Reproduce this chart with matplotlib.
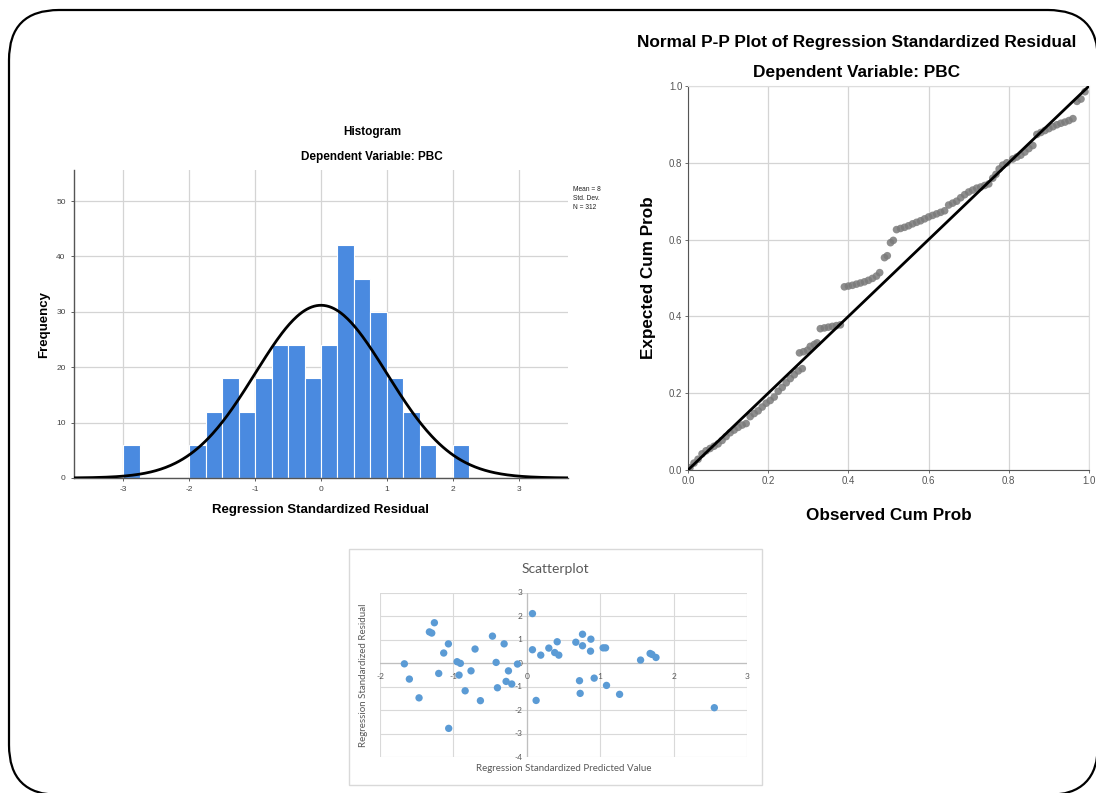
import numpy as np
import matplotlib
matplotlib.use("Agg")
import matplotlib.pyplot as plt
from matplotlib.patches import FancyBboxPatch

plt.rcParams['font.family'] = ['Liberation Sans', 'DejaVu Sans']
plt.rcParams['axes.unicode_minus'] = False

# ---------------- data ----------------
# Histogram (bin width 0.25)
hist_bin_starts = [-3.0, -2.0, -1.75, -1.5, -1.25, -1.0, -0.75, -0.5, -0.25,
                   0.0, 0.25, 0.5, 0.75, 1.0, 1.25, 1.5, 2.0]
hist_counts = [6, 6, 12, 18, 12, 18, 24, 24, 18, 24, 42, 36, 30, 18, 12, 6, 6]
hist_bin_width = 0.25
resid_mean = 0.0
resid_sd = 0.998
resid_n = 312
hist_xticks = [-3, -2, -1, 0, 1, 2, 3]
hist_yticks = [0, 10, 20, 30, 40, 50]

# Normal P-P plot points (observed, expected)
pp_observed = [0.005, 0.015, 0.025, 0.035, 0.045, 0.055, 0.065, 0.075, 0.085, 0.095,
               0.105, 0.115, 0.125, 0.135, 0.145, 0.155, 0.165, 0.175, 0.185, 0.195,
               0.205, 0.215, 0.225, 0.235, 0.245, 0.255, 0.265, 0.275, 0.285,
               0.278, 0.288, 0.298, 0.305, 0.315, 0.322,
               0.33, 0.34, 0.35, 0.36, 0.37, 0.38,
               0.39, 0.40, 0.41, 0.42, 0.43, 0.44, 0.45, 0.46, 0.47, 0.478,
               0.49, 0.497, 0.505, 0.512,
               0.52, 0.53, 0.54, 0.55, 0.56, 0.57, 0.58, 0.59, 0.60, 0.61, 0.62, 0.63,
               0.64, 0.65, 0.66, 0.67, 0.68, 0.69, 0.70, 0.71, 0.72, 0.73, 0.74, 0.75,
               0.76, 0.768, 0.776, 0.785, 0.795,
               0.81, 0.82, 0.83, 0.84, 0.85, 0.86, 0.87, 0.88, 0.89, 0.90, 0.91, 0.92,
               0.93, 0.94, 0.95, 0.96, 0.97, 0.98, 0.99]
pp_expected = [0.006, 0.018, 0.028, 0.042, 0.05, 0.056, 0.062, 0.068, 0.077, 0.087,
               0.097, 0.104, 0.111, 0.117, 0.121, 0.139, 0.147, 0.154, 0.164, 0.174,
               0.181, 0.19, 0.205, 0.215, 0.227, 0.238, 0.248, 0.258, 0.264,
               0.305, 0.308, 0.312, 0.322, 0.327, 0.331,
               0.368, 0.37, 0.372, 0.374, 0.376, 0.378,
               0.477, 0.479, 0.481, 0.484, 0.487, 0.49, 0.494, 0.499, 0.505, 0.514,
               0.553, 0.558, 0.592, 0.598,
               0.626, 0.629, 0.632, 0.636, 0.641, 0.645, 0.649, 0.654, 0.659, 0.663, 0.667, 0.671,
               0.675, 0.69, 0.695, 0.70, 0.709, 0.717, 0.724, 0.729, 0.734, 0.737, 0.741, 0.745,
               0.76, 0.77, 0.784, 0.794, 0.8,
               0.81, 0.815, 0.82, 0.828, 0.837, 0.845, 0.874, 0.879, 0.884, 0.889, 0.894, 0.899,
               0.903, 0.906, 0.91, 0.915, 0.96, 0.966, 0.985]
pp_ticks = [0.0, 0.2, 0.4, 0.6, 0.8, 1.0]

# Scatterplot
scatter_pred = [-1.668, -1.60, -1.468, -1.327, -1.295, -1.259, -1.20, -1.132, -1.068, -1.064,
                -0.95, -0.905, -0.923, -0.84, -0.76, -0.705, -0.632, -0.468, -0.418, -0.40,
                -0.309, -0.282, -0.25, -0.205, -0.127, 0.077, 0.077, 0.127, 0.19, 0.30,
                0.38, 0.414, 0.436, 0.668, 0.718, 0.727, 0.759, 0.759, 0.868, 0.873,
                0.918, 1.04, 1.073, 1.086, 1.264, 1.55, 1.68, 1.705, 1.76, 2.555]
scatter_resid = [-0.03, -0.68, -1.48, 1.33, 1.28, 1.72, -0.44, 0.43, 0.82, -2.78,
                 0.06, -0.01, -0.51, -1.18, -0.33, 0.60, -1.60, 1.15, 0.03, -1.05,
                 0.82, -0.78, -0.33, -0.89, -0.04, 2.11, 0.57, -1.59, 0.34, 0.64,
                 0.45, 0.91, 0.34, 0.89, -0.75, -1.29, 1.23, 0.74, 0.51, 1.02,
                 -0.64, 0.65, 0.65, -0.95, -1.33, 0.13, 0.41, 0.37, 0.24, -1.90]
scatter_xticks = [-2, -1, 0, 1, 2, 3]
scatter_yticks = [-4, -3, -2, -1, 0, 1, 2, 3]

W, H = 1096, 793
fig = plt.figure(figsize=(W / 100, H / 100), dpi=100)
fig.patch.set_facecolor('white')


def fax(x0, y0, x1, y1, **kw):
    """axes from pixel box (top-left origin)"""
    return fig.add_axes([x0 / W, 1 - y1 / H, (x1 - x0) / W, (y1 - y0) / H], **kw)


# ---- background frame ----
bg = fax(0, 0, W, H, zorder=-10)
bg.set_xlim(0, W)
bg.set_ylim(H, 0)
bg.axis('off')
bg.add_patch(FancyBboxPatch((9, 10), 1089, 785, boxstyle="round,pad=0,rounding_size=50",
                            fc='white', ec='black', lw=1.6, clip_on=False))

# ---- Histogram ----
ah = fax(74, 170, 568, 478)
ah.set_facecolor('none')
ah.bar(hist_bin_starts, hist_counts, width=hist_bin_width, align='edge',
       color='#4a8ae0', edgecolor='white', linewidth=0.8, zorder=2)
xs = np.linspace(-3.75, 3.75, 400)
curve = resid_n * hist_bin_width * np.exp(-0.5 * ((xs - resid_mean) / resid_sd) ** 2) / (resid_sd * np.sqrt(2 * np.pi))
ah.plot(xs, curve, color='black', lw=2.0, zorder=3)
ah.set_xlim(-3.75, 3.75)
ah.set_ylim(0, 55.6)
ah.set_xticks(hist_xticks)
ah.set_yticks(hist_yticks)
ah.grid(True, color='#d4d4d4', lw=0.9, zorder=0)
ah.set_axisbelow(True)
for s in ['top', 'right']:
    ah.spines[s].set_visible(False)
for s in ['left', 'bottom']:
    ah.spines[s].set_color('#555555')
    ah.spines[s].set_linewidth(1.0)
ah.tick_params(labelsize=6, colors='#444444', length=2, width=0.6, pad=4)
ah.set_xlabel('Regression Standardized Residual', fontsize=9.5, fontweight='bold', labelpad=8)
ah.set_ylabel('Frequency', fontsize=9.5, fontweight='bold', labelpad=4)
fig.text(372 / W, 1 - 132 / H, 'Histogram', ha='center', va='center', fontsize=8.5, fontweight='bold')
fig.text(372 / W, 1 - 157 / H, 'Dependent Variable: PBC', ha='center', va='center', fontsize=8.5, fontweight='bold')

# clipped stats legend
al = fax(572, 182, 601, 216)
al.set_xlim(0, 1)
al.set_ylim(1, 0)
al.axis('off')
for i, t in enumerate(['Mean = 8.22E-17', 'Std. Dev. = 0.998', 'N = 312']):
    al.text(0.05, 0.22 + i * 0.26, t, fontsize=4.8, ha='left', va='center', color='#222222', clip_on=True)

# ---- Normal P-P plot ----
ap = fax(688, 86, 1089, 470)
ap.set_facecolor('none')
ap.scatter(pp_observed, pp_expected, s=30, color='#7a7a7a', alpha=0.85, edgecolors='none', zorder=2)
ap.plot([0, 1], [0, 1], color='black', lw=2.0, zorder=3)
ap.set_xlim(0, 1)
ap.set_ylim(0, 1)
ap.set_xticks(pp_ticks)
ap.set_yticks(pp_ticks)
ap.xaxis.set_major_formatter(matplotlib.ticker.FormatStrFormatter('%.1f'))
ap.yaxis.set_major_formatter(matplotlib.ticker.FormatStrFormatter('%.1f'))
ap.grid(True, color='#d4d4d4', lw=0.9, zorder=0)
ap.set_axisbelow(True)
for s in ['top', 'right']:
    ap.spines[s].set_color('#dddddd')
for s in ['left', 'bottom']:
    ap.spines[s].set_color('#555555')
ap.tick_params(labelsize=7, colors='#555555', length=2, width=0.6, pad=2)
ap.set_xlabel('Observed Cum Prob', fontsize=12.3, fontweight='bold', labelpad=16)
ap.set_ylabel('Expected Cum Prob', fontsize=12.3, fontweight='bold', labelpad=9)
fig.text(857 / W, 1 - 43 / H, 'Normal P-P Plot of Regression Standardized Residual',
         ha='center', va='center', fontsize=12.4, fontweight='bold')
fig.text(857 / W, 1 - 72 / H, 'Dependent Variable: PBC', ha='center', va='center',
         fontsize=12.4, fontweight='bold')

# ---- Scatterplot (Excel style) ----
bg.add_patch(plt.Rectangle((349, 549), 413, 236, fc='white', ec='#d9d9d9', lw=1.0))
asc = fax(380, 592.7, 747, 757)
asc.set_facecolor('none')
asc.set_xlim(-2, 3)
asc.set_ylim(-4, 3)
asc.set_xticks(scatter_xticks)
asc.set_yticks(scatter_yticks)
asc.grid(True, color='#d9d9d9', lw=0.8, zorder=0)
asc.set_axisbelow(True)
for s in asc.spines.values():
    s.set_visible(False)
asc.axhline(0, color='#bfbfbf', lw=0.9, zorder=1)
asc.axvline(0, color='#bfbfbf', lw=0.9, zorder=1)
asc.tick_params(left=False, bottom=False, labelleft=False, labelbottom=False)
for v in scatter_xticks:
    asc.text(v, -0.55, str(v), ha='center', va='center', fontsize=6, color='#595959',
             family=['Lato', 'DejaVu Sans'], zorder=1)
for v in scatter_yticks:
    asc.text(-0.06, v, str(v), ha='right', va='center', fontsize=6, color='#595959',
             family=['Lato', 'DejaVu Sans'], zorder=1)
asc.scatter(scatter_pred, scatter_resid, s=28, color='#5b9bd5', edgecolors='none', zorder=3)
asc.set_xlabel('Regression Standardized Predicted Value', fontsize=7, color='#595959',
               family=['Lato', 'DejaVu Sans'], labelpad=1)
asc.set_ylabel('Regression Standardized Residual', fontsize=7, color='#595959',
               family=['Lato', 'DejaVu Sans'], labelpad=2)
asc.xaxis.set_label_coords(0.5, -0.04)
asc.yaxis.set_label_coords(-0.033, 0.5)
fig.text(555 / W, 1 - 569 / H, 'Scatterplot', ha='center', va='center', fontsize=10,
         color='#595959', family=['Lato', 'DejaVu Sans'])

fig.savefig('out.png', dpi=100, facecolor='white')
